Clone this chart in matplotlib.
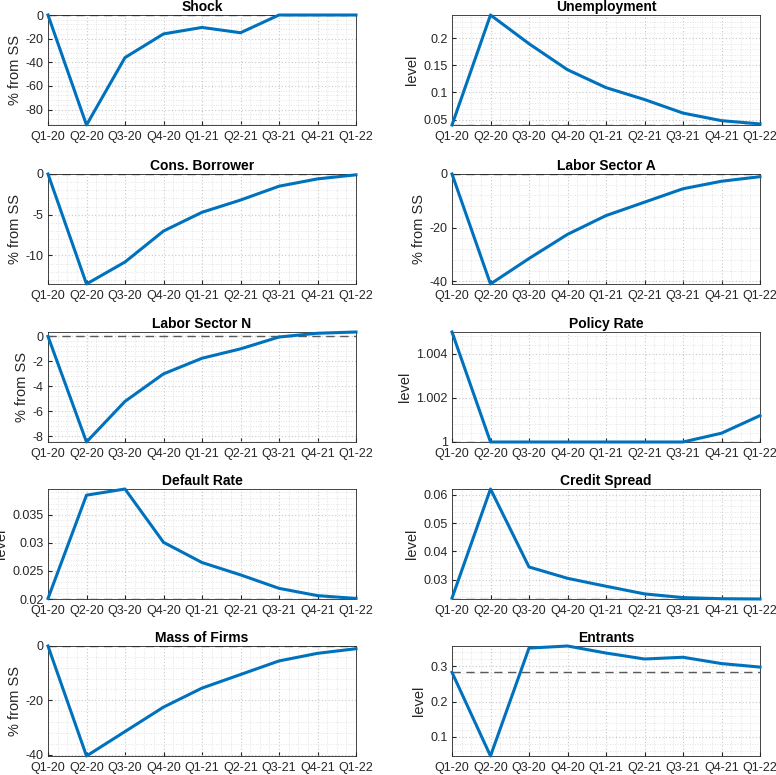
import matplotlib
matplotlib.use("Agg")
import matplotlib.pyplot as plt
from matplotlib.ticker import AutoMinorLocator

plt.rcParams['font.family'] = ['Liberation Sans', 'DejaVu Sans']

quarters = ["Q1-20", "Q2-20", "Q3-20", "Q4-20", "Q1-21", "Q2-21", "Q3-21", "Q4-21", "Q1-22"]

titles = ["Shock", "Unemployment", "Cons. Borrower", "Labor Sector A", "Labor Sector N",
          "Policy Rate", "Default Rate", "Credit Spread", "Mass of Firms", "Entrants"]
ylabels = ["% from SS", "level", "% from SS", "% from SS", "% from SS",
           "level", "level", "level", "% from SS", "level"]

shock = [0, -93, -36, -16, -10.5, -15, 0, 0, 0]
unemployment = [0.04, 0.243, 0.19, 0.142, 0.109, 0.087, 0.062, 0.048, 0.042]
cons_borrower = [0, -13.5, -10.8, -7.0, -4.7, -3.2, -1.5, -0.6, -0.1]
labor_a = [0, -41, -31.5, -22.5, -15.5, -10.5, -5.5, -2.7, -1.0]
labor_n = [0, -8.45, -5.2, -3.0, -1.75, -1.0, -0.05, 0.25, 0.35]
policy_rate = [1.005, 1.0, 1.0, 1.0, 1.0, 1.0, 1.0, 1.0004, 1.0012]
default_rate = [0.0201, 0.0385, 0.0396, 0.0301, 0.0265, 0.0243, 0.0219, 0.0206, 0.0201]
credit_spread = [0.0235, 0.062, 0.0345, 0.0305, 0.0277, 0.025, 0.0237, 0.0233, 0.0232]
mass_firms = [0, -40.5, -31.5, -22.5, -15.5, -10.5, -5.5, -2.7, -1.0]
entrants = [0.283, 0.045, 0.352, 0.358, 0.338, 0.321, 0.326, 0.308, 0.298]

series = [shock, unemployment, cons_borrower, labor_a, labor_n,
          policy_rate, default_rate, credit_spread, mass_firms, entrants]
steady = [0, 0.04, 0, 0, 0, 1.0, 0.02, 0.0232, 0, 0.283]
yticks = [[-80, -60, -40, -20, 0], [0.05, 0.1, 0.15, 0.2], [-10, -5, 0], [-40, -20, 0],
          [-8, -6, -4, -2, 0], [1, 1.002, 1.004], [0.02, 0.025, 0.03, 0.035],
          [0.03, 0.04, 0.05, 0.06], [-40, -20, 0], [0.1, 0.2, 0.3]]
yticklabels = [["-80", "-60", "-40", "-20", "0"], ["0.05", "0.1", "0.15", "0.2"],
               ["-10", "-5", "0"], ["-40", "-20", "0"], ["-8", "-6", "-4", "-2", "0"],
               ["1", "1.002", "1.004"], ["0.02", "0.025", "0.03", "0.035"],
               ["0.03", "0.04", "0.05", "0.06"], ["-40", "-20", "0"], ["0.1", "0.2", "0.3"]]

W, H = 776, 775
fig = plt.figure(figsize=(W / 100, H / 100), dpi=100)

col_left = [48, 452]
col_w = 308
row_top = [15, 174, 332, 489, 646]
row_h = 110

grey = (0.15, 0.15, 0.15)
x = list(range(len(quarters)))

for i, vals in enumerate(series):
    r, c = divmod(i, 2)
    ax = fig.add_axes([col_left[c] / W, 1 - (row_top[r] + row_h) / H, col_w / W, row_h / H])
    ax.axhline(steady[i], color=(0.35, 0.35, 0.35), lw=1.0, ls=(0, (6, 4)), zorder=2)
    ax.plot(x, vals, color="#0072BD", lw=2.2, zorder=3, clip_on=False)
    ax.set_xlim(0, len(quarters) - 1)
    lo, hi = min(vals), max(vals)
    if i in (0, 2, 3, 8):
        hi = 0
    ax.set_ylim(lo, hi)
    ax.set_xticks(x)
    ax.set_xticklabels(quarters)
    ax.set_yticks(yticks[i])
    ax.set_yticklabels(yticklabels[i])
    ax.xaxis.set_minor_locator(AutoMinorLocator(4))
    ax.yaxis.set_minor_locator(AutoMinorLocator(5))
    ax.grid(which="major", color=(0.78, 0.78, 0.78), ls=(0, (1, 2)), lw=0.8)
    ax.grid(which="minor", color=(0.86, 0.86, 0.86), ls=(0, (1, 2)), lw=0.6)
    ax.tick_params(which="both", direction="in", colors=grey, labelsize=9, length=3)
    ax.tick_params(which="minor", length=0)
    ax.tick_params(axis="x", pad=4)
    ax.tick_params(axis="y", pad=3)
    for s in ax.spines.values():
        s.set_color(grey)
        s.set_linewidth(0.6)
    ax.set_title(titles[i], fontsize=10, fontweight="bold", pad=3)
    ax.set_ylabel(ylabels[i], fontsize=10.5, color=grey, labelpad=3)
    ax.set_axisbelow(True)

fig.savefig("out.png", dpi=100)
